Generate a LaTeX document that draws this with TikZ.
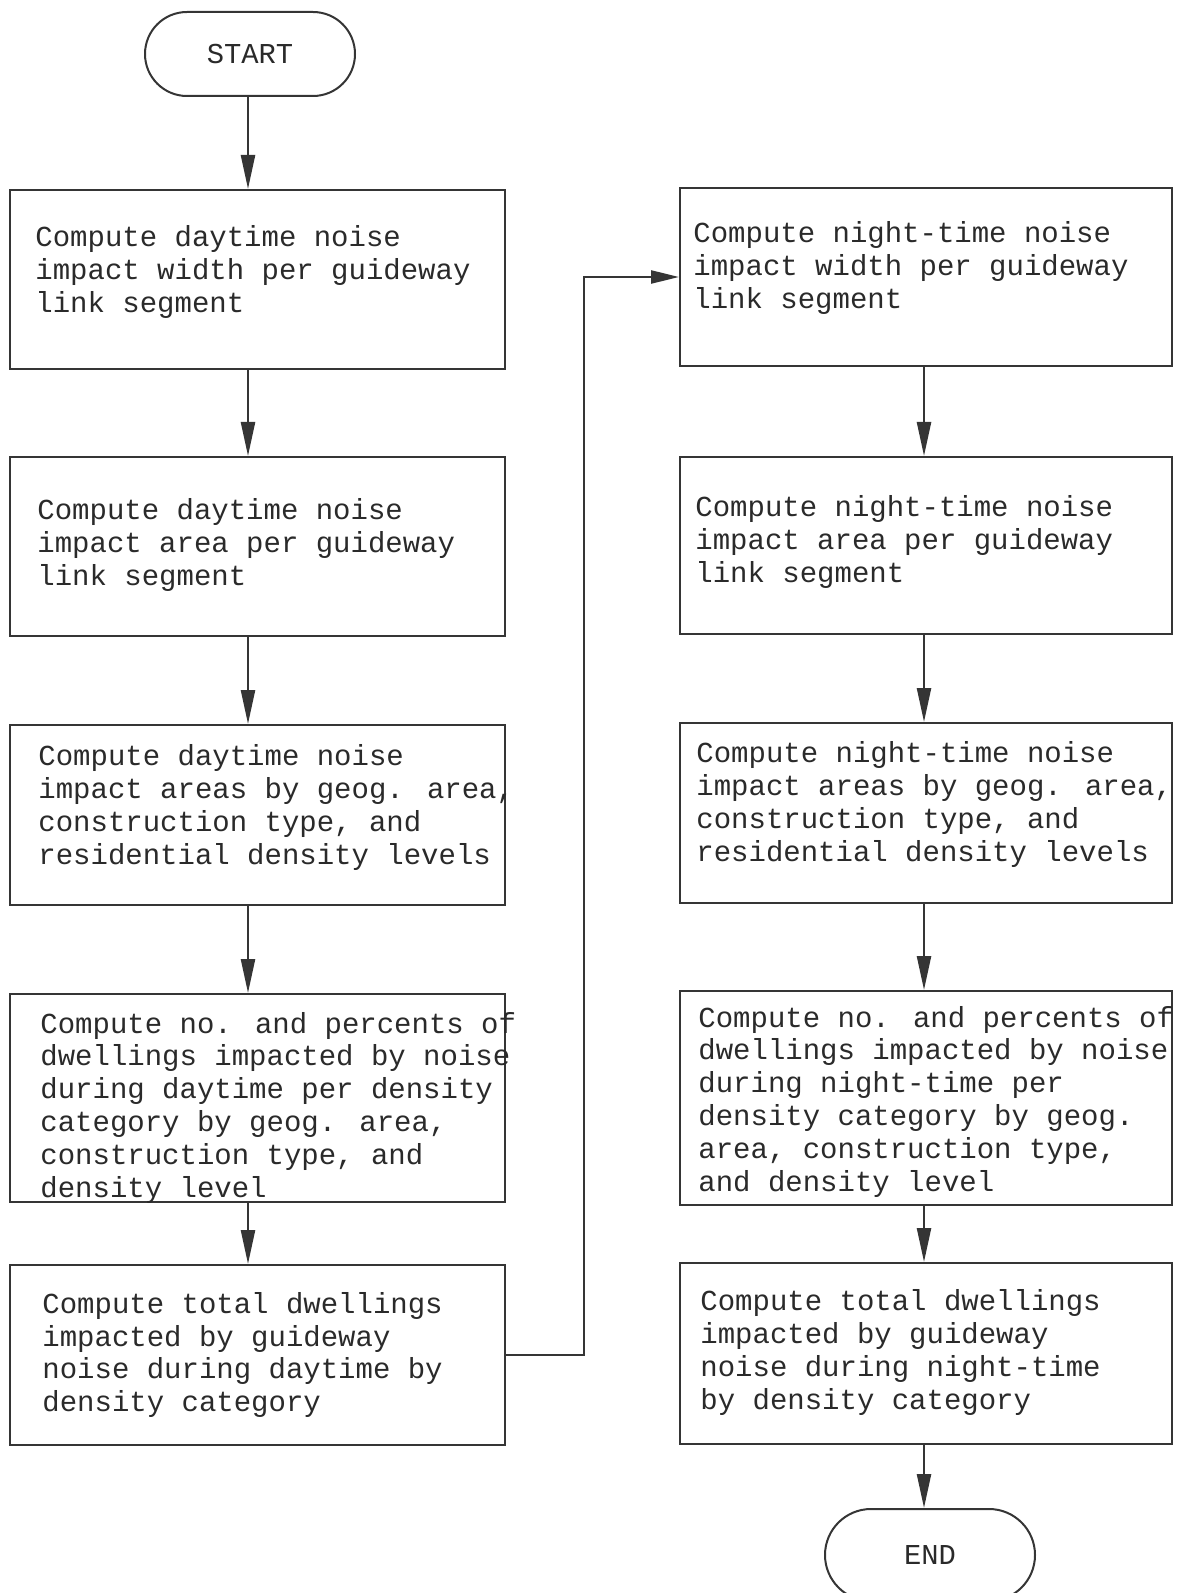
\documentclass[tikz,border=0pt]{standalone}
\usepackage{fontspec}
\setmainfont{Liberation Mono}
\usetikzlibrary{arrows.meta,shapes.misc}
\definecolor{ink}{HTML}{353535}
\definecolor{txtink}{HTML}{2A2A2A}

\begin{document}
\begin{tikzpicture}[x=0.5pt,y=-0.5pt,
  stepbox/.style={draw=ink, line width=1pt, rectangle, inner sep=0pt},
  terminal/.style={draw=ink, line width=1pt, rounded rectangle, inner sep=0pt,
    minimum width=105pt, font=\fontsize{14.4pt}{16.4pt}\selectfont, text=txtink},
  steptext/.style={anchor=west, align=left, inner sep=0pt, text=txtink,
    font=\fontsize{14.5pt}{16.4pt}\selectfont},
  flow/.style={draw=ink, line width=1.2pt, -{Triangle[length=17pt,width=7pt]}},
  feed/.style={draw=ink, line width=1.2pt, -{Triangle[length=14pt,width=6.5pt]}}]

\useasboundingbox (0,0) rectangle (1186,1593);

% terminals
\node[terminal, minimum height=42pt] (start) at (250,54) {START};
\node[terminal, minimum height=46pt] (end) at (930,1555) {END};

% daytime column
\node[stepbox, minimum width=247.5pt, minimum height=89.5pt] (L1) at (257.5,279.5) {};
\node[stepbox, minimum width=247.5pt, minimum height=89.5pt] (L2) at (257.5,546.5) {};
\node[stepbox, minimum width=247.5pt, minimum height=90pt]   (L3) at (257.5,815) {};
\node[stepbox, minimum width=247.5pt, minimum height=104pt]  (L4) at (257.5,1098) {};
\node[stepbox, minimum width=247.5pt, minimum height=90pt]   (L5) at (257.5,1355) {};

% night-time column
\node[stepbox, minimum width=246pt, minimum height=89pt]   (R1) at (926,277) {};
\node[stepbox, minimum width=246pt, minimum height=88.5pt] (R2) at (926,545.5) {};
\node[stepbox, minimum width=246pt, minimum height=90pt]   (R3) at (926,813) {};
\node[stepbox, minimum width=246pt, minimum height=107pt]  (R4) at (926,1098) {};
\node[stepbox, minimum width=246pt, minimum height=90.5pt] (R5) at (926,1353.5) {};

% step texts
\node[steptext] (tL1) at (35,272) {Compute daytime noise\\impact width per guideway\\link segment};
\node[steptext] (tL2) at (37,545) {Compute daytime noise\\impact area per guideway\\link segment};
\node[steptext] (tL3) at (38,807.5) {Compute daytime noise\\impact areas by geog. area,\\construction type, and\\residential density levels};
\node[steptext] (tL4) at (40,1107.5) {Compute no. and percents of\\dwellings impacted by noise\\during daytime per density\\category by geog. area,\\construction type, and\\density level};
\node[steptext] (tL5) at (42,1355) {Compute total dwellings\\impacted by guideway\\noise during daytime by\\density category};

\node[steptext] (tR1) at (693,268) {Compute night-time noise\\impact width per guideway\\link segment};
\node[steptext] (tR2) at (695,542) {Compute night-time noise\\impact area per guideway\\link segment};
\node[steptext] (tR3) at (696,804.5) {Compute night-time noise\\impact areas by geog. area,\\construction type, and\\residential density levels};
\node[steptext] (tR4) at (698,1101.5) {Compute no. and percents of\\dwellings impacted by noise\\during night-time per\\density category by geog.\\area, construction type,\\and density level};
\node[steptext] (tR5) at (700,1352.5) {Compute total dwellings\\impacted by guideway\\noise during night-time\\by density category};

% connector guide positions
\coordinate (xa) at (248,0);
\coordinate (xb) at (924,0);
\coordinate (bend) at (584,277);

% daytime flow
\draw[flow] (start.south -| xa) -- (L1.north -| xa);
\draw[flow] (L1.south -| xa) -- (L2.north -| xa);
\draw[flow] (L2.south -| xa) -- (L3.north -| xa);
\draw[flow] (L3.south -| xa) -- (L4.north -| xa);
\draw[flow] (L4.south -| xa) -- (L5.north -| xa);

% hand-over to the night-time column
\draw[feed] (L5.east) -| (bend) -- (R1.west);

% night-time flow
\draw[flow] (R1.south -| xb) -- (R2.north -| xb);
\draw[flow] (R2.south -| xb) -- (R3.north -| xb);
\draw[flow] (R3.south -| xb) -- (R4.north -| xb);
\draw[flow] (R4.south -| xb) -- (R5.north -| xb);
\draw[flow] (R5.south -| xb) -- (end.north -| xb);
\end{tikzpicture}
\end{document}
